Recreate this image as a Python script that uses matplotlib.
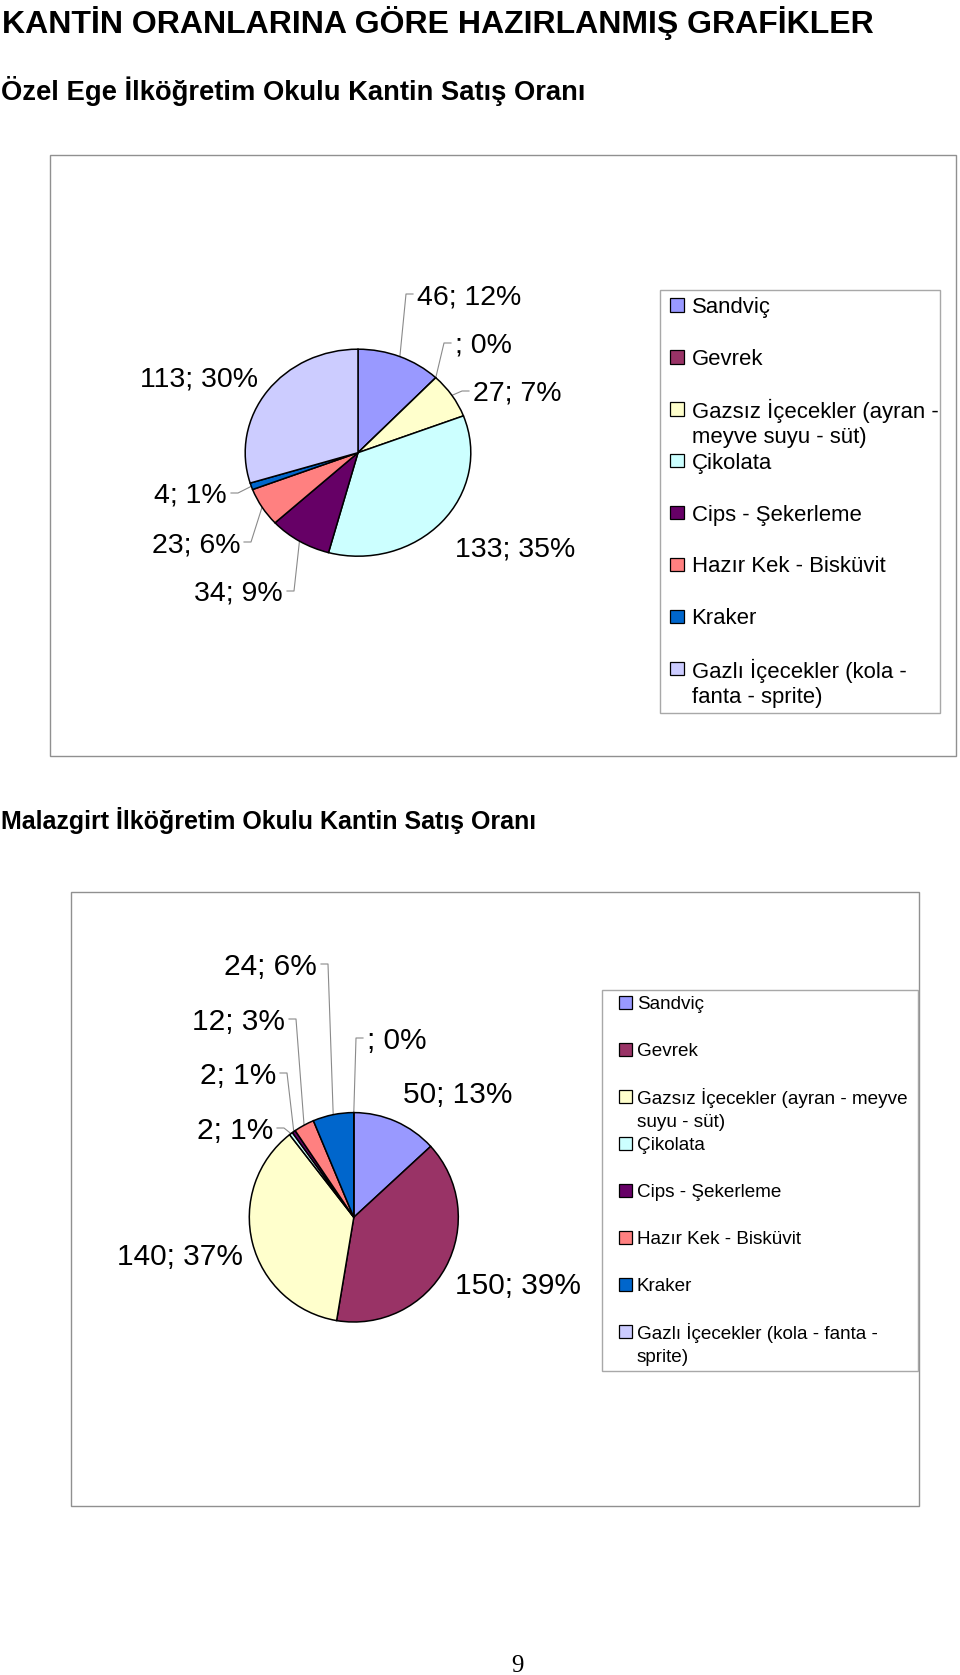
"""
Kantin satış oranları - iki okul için pasta grafikleri
"""

import numpy as np
import matplotlib
matplotlib.use('Agg')
import matplotlib.pyplot as plt
from matplotlib.patches import Rectangle

plt.rcParams['font.family'] = ['Liberation Sans', 'DejaVu Sans']

# ============================================================================
# VERİLER
# ============================================================================

kategoriler = ['Sandviç', 'Gevrek', 'Gazsız İçecekler (ayran - meyve suyu - süt)',
               'Çikolata', 'Cips - Şekerleme', 'Hazır Kek - Bisküvit', 'Kraker',
               'Gazlı İçecekler (kola - fanta - sprite)']

# None = boş hücre (Excel "; 0%" yazıyor)
ege_satis = [46, None, 27, 133, 34, 23, 4, 113]
malazgirt_satis = [50, 150, 140, 2, 2, 12, 24, None]

renkler = ['#9999FF', '#993366', '#FFFFCC', '#CCFFFF',
           '#660066', '#FF8080', '#0066CC', '#CCCCFF']

ege_lejant = ['Sandviç', 'Gevrek', 'Gazsız İçecekler (ayran -\nmeyve suyu - süt)',
              'Çikolata', 'Cips - Şekerleme', 'Hazır Kek - Bisküvit', 'Kraker',
              'Gazlı İçecekler (kola -\nfanta - sprite)']
malazgirt_lejant = ['Sandviç', 'Gevrek', 'Gazsız İçecekler (ayran - meyve\nsuyu - süt)',
                    'Çikolata', 'Cips - Şekerleme', 'Hazır Kek - Bisküvit', 'Kraker',
                    'Gazlı İçecekler (kola - fanta -\nsprite)']

baslik = 'KANTİN ORANLARINA GÖRE HAZIRLANMIŞ GRAFİKLER'
ege_baslik = 'Özel Ege İlköğretim Okulu Kantin Satış Oranı'
malazgirt_baslik = 'Malazgirt İlköğretim Okulu Kantin Satış Oranı'

# ============================================================================
# YERLEŞİM (piksel)
# ============================================================================

W, H = 960, 1675

# etiket: (x, y, hizalama, kılavuz çizgisi)
ege_etiket = [(417, 294, 'left', True), (455, 343, 'left', True),
              (473, 391, 'left', True), (455, 547, 'left', False),
              (283, 591, 'right', True), (240, 542, 'right', True),
              (227, 493, 'right', True), (258, 376, 'right', False)]
malazgirt_etiket = [(403, 1092, 'left', False), (455, 1283, 'left', False),
                    (243, 1254, 'right', False), (273, 1128, 'right', True),
                    (276, 1073, 'right', True), (285, 1019, 'right', True),
                    (317, 964, 'right', True), (367, 1038, 'left', True)]

fig = plt.figure(figsize=(W / 100, H / 100), dpi=100)
sayfa = fig.add_axes([0, 0, 1, 1])
sayfa.set_xlim(0, W)
sayfa.set_ylim(H, 0)
sayfa.axis('off')


def etiket_metni(v, toplam):
    if v is None:
        return '; 0%'
    return f'{v}; {int(v / toplam * 100 + 0.5)}%'


def pasta_ciz(satis, cx, cy, rx, ry, etiketler, fs):
    vals = [v if v is not None else 0 for v in satis]
    toplam = sum(vals)

    pax = fig.add_axes([(cx - 1.25 * rx) / W, (H - cy - 1.25 * ry) / H,
                        2.5 * rx / W, 2.5 * ry / H])
    pax.pie(vals, colors=renkler, startangle=90, counterclock=False,
            wedgeprops=dict(edgecolor='black', linewidth=1.1))
    pax.set_aspect('auto')
    pax.set_xlim(-1.25, 1.25)
    pax.set_ylim(-1.25, 1.25)

    kum = np.cumsum([0] + vals)
    for i, v in enumerate(satis):
        tx, ty, ha, kilavuz = etiketler[i]
        sayfa.text(tx, ty, etiket_metni(v, toplam), fontsize=fs, ha=ha,
                   va='center_baseline', color='black')
        if kilavuz:
            aci = np.radians((kum[i] + kum[i + 1]) / 2 / toplam * 360)
            ex = cx + rx * np.sin(aci)
            ey = cy - ry * np.cos(aci)
            yon = -1 if ha == 'left' else 1
            sayfa.plot([ex, tx + yon * 11, tx + yon * 4], [ey, ty, ty],
                       color='#8a8a8a', linewidth=0.8)


def lejant_ciz(etiketler, kutu, mx, tx, y0, adim, boy, fs, satir):
    x0, y1, x1, y2 = kutu
    sayfa.add_patch(Rectangle((x0, y1), x1 - x0, y2 - y1, fill=False,
                              edgecolor='#a8a8a8', linewidth=1))
    for i, lab in enumerate(etiketler):
        y = y0 + i * adim
        sayfa.add_patch(Rectangle((mx, y - boy / 2), boy, boy,
                                  facecolor=renkler[i], edgecolor='black',
                                  linewidth=0.9))
        # her satırı ayrı yaz, ilk satır kutuyla hizalı kalsın
        for k, parca in enumerate(lab.split('\n')):
            sayfa.text(tx, y + k * satir, parca, fontsize=fs, ha='left',
                       va='center_baseline', color='black')


# Başlıklar
sayfa.text(2, 33, baslik, fontsize=23, fontweight='bold', va='baseline')
sayfa.text(1, 100, ege_baslik, fontsize=19.7, fontweight='bold', va='baseline')
sayfa.text(1, 829, malazgirt_baslik, fontsize=18, fontweight='bold',
           va='baseline')

# Grafik çerçeveleri
sayfa.add_patch(Rectangle((50, 155), 906, 601, fill=False,
                          edgecolor='#909090', linewidth=1))
sayfa.add_patch(Rectangle((70.5, 892), 848, 614, fill=False,
                          edgecolor='#909090', linewidth=1))

# Ege
pasta_ciz(ege_satis, 358, 452.7, 112.8, 103.5, ege_etiket, 20.5)
lejant_ciz(ege_lejant, (659.5, 290, 940, 712.5), 670, 691.5, 305, 51.9,
           13.5, 15.9, 26.7)

# Malazgirt
pasta_ciz(malazgirt_satis, 353.8, 1217.3, 104.5, 104.7, malazgirt_etiket, 21.5)
lejant_ciz(malazgirt_lejant, (601.5, 989.5, 917.5, 1371), 619, 637, 1002.7,
           46.9, 13, 13.6, 24)

# Sayfa numarası
sayfa.text(517, 1672, '9', fontsize=18, ha='center', va='baseline',
           family=['Liberation Serif', 'DejaVu Serif'])

plt.savefig('out.png', dpi=100)
